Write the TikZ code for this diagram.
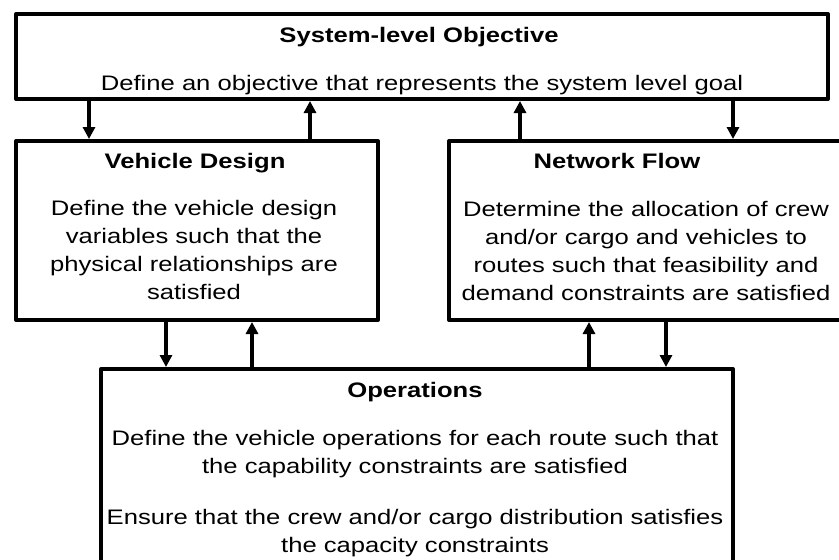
\documentclass[tikz,border=0pt]{standalone}
\usepackage{fontspec}
\setmainfont{Liberation Sans}[FakeStretch=1.22]
\usetikzlibrary{arrows.meta,calc,positioning}

\begin{document}
\begin{tikzpicture}[x=1pt,y=-1pt,
			box/.style={draw, line width=4pt, line join=round, inner sep=0pt, anchor=north west},
			head/.style={font=\fontsize{21}{24}\selectfont\bfseries, anchor=base},
			txt/.style={font=\fontsize{21}{28}\selectfont, anchor=base, align=center, inner sep=0pt},
			link/.style={line width=3.5pt, -{Triangle[width=12pt,length=12pt]}},
		]
		\useasboundingbox (0,0) rectangle (839,560);
		% the four blocks
		\node[box, minimum width=812pt, minimum height=85pt] (sys) at (14,12) {};
		\node[box, minimum width=362pt, minimum height=179pt] (veh) at (14,139) {};
		\node[box, minimum width=400pt, minimum height=179pt] (net) at (447,139) {};
		\node[box, minimum width=632pt, minimum height=193pt] (ops) at (99,367) {};
		% texts, anchored on the baseline of their last line
		\node[head] (sysh) at (419,42) {System-level Objective};
		\node[txt] (syst) at (422,90) {Define an objective that represents the system level goal};
		\node[head] (vehh) at (195,168) {Vehicle Design};
		\node[txt] (veht) at (194,299) {Define the vehicle design\\variables such that the\\physical relationships are\\satisfied};
		\node[head] (neth) at (617,168) {Network Flow};
		\node[txt] (nett) at (646,300) {Determine the allocation of crew\\and/or cargo and vehicles to\\routes such that feasibility and\\demand constraints are satisfied};
		\node[head] (opsh) at (415,397) {Operations};
		\node[txt] (opst1) at (415,473) {Define the vehicle operations for each route such that\\the capability constraints are satisfied};
		\node[txt] (opst2) at (415,552) {Ensure that the crew and/or cargo distribution satisfies\\the capacity constraints};
		%
		\coordinate (a1) at (89,0);
		\coordinate (a2) at (310,0);
		\coordinate (a3) at (520,0);
		\coordinate (a4) at (733,0);
		\coordinate (b1) at (166,0);
		\coordinate (b2) at (252,0);
		\coordinate (b3) at (589,0);
		\coordinate (b4) at (666,0);
		% links between the levels
		\draw[link] (sys.south -| a1) -- (veh.north -| a1);
		\draw[link] (veh.north -| a2) -- (sys.south -| a2);
		\draw[link] (net.north -| a3) -- (sys.south -| a3);
		\draw[link] (sys.south -| a4) -- (net.north -| a4);
		\draw[link] (veh.south -| b1) -- (ops.north -| b1);
		\draw[link] (ops.north -| b2) -- (veh.south -| b2);
		\draw[link] (ops.north -| b3) -- (net.south -| b3);
		\draw[link] (net.south -| b4) -- (ops.north -| b4);
	\end{tikzpicture}
\end{document}
